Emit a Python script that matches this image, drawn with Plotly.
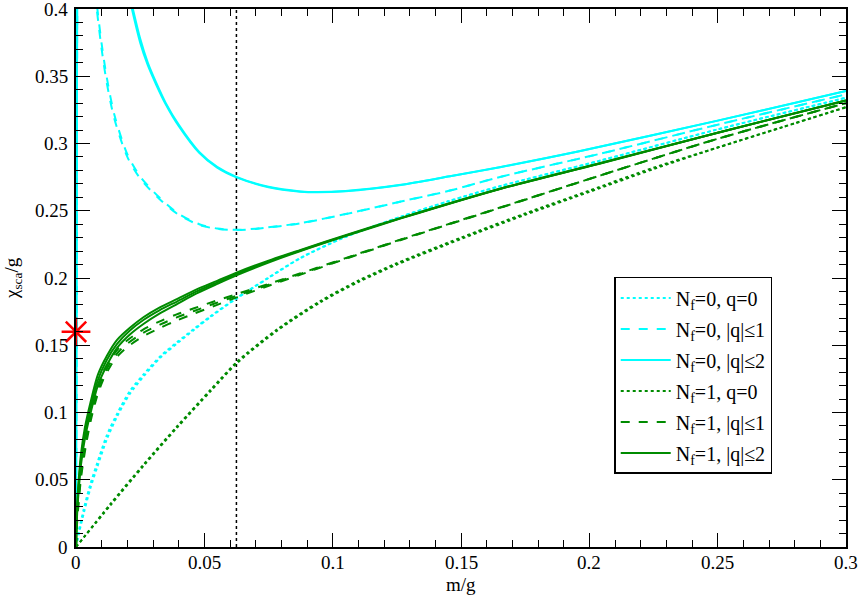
import plotly.graph_objects as go

# ---------------- data ----------------
# N_f = 0, q = 0 (cyan dotted)
c0_x = [0, 0.001, 0.003, 0.0055, 0.0082, 0.012, 0.016, 0.021, 0.0264, 0.033, 0.0395, 0.046, 0.0524, 0.0616,
        0.075, 0.0875, 0.105, 0.1266, 0.145, 0.1656, 0.2047, 0.25, 0.3]
c0_y1 = [0, 0.009, 0.025, 0.043, 0.059, 0.080, 0.097, 0.114, 0.127, 0.141, 0.1515, 0.1615, 0.171, 0.1835,
         0.200, 0.2148, 0.2305, 0.2455, 0.257, 0.2685, 0.2875, 0.3105, 0.334]
c0_y2 = [0, 0.011, 0.028, 0.046, 0.062, 0.083, 0.099, 0.116, 0.1285, 0.142, 0.1525, 0.1622, 0.1716, 0.1839,
         0.2003, 0.2150, 0.2306, 0.2456, 0.257, 0.2685, 0.2875, 0.3105, 0.334]

# N_f = 0, |q| <= 1 (cyan dashed)
c1_x = [0, 0.0005, None, 0.0082, 0.01, 0.012, 0.015, 0.02, 0.025, 0.0324, 0.04, 0.048, 0.055, 0.0625, 0.07,
        0.0875, 0.105, 0.1266, 0.1457, 0.1656, 0.2047, 0.25, 0.3]
c1_y1 = [0, 0.45, None, 0.398, 0.37, 0.345, 0.318, 0.29, 0.274, 0.259, 0.247, 0.2395, 0.2365, 0.2356, 0.2365,
         0.2407, 0.2475, 0.2568, 0.265, 0.2753, 0.2926, 0.314, 0.3365]
c1_y2 = [0, 0.45, None, 0.402, 0.374, 0.349, 0.321, 0.292, 0.2755, 0.260, 0.2478, 0.240, 0.2368, 0.2358, 0.2367,
         0.2408, 0.2476, 0.2569, 0.265, 0.2753, 0.2926, 0.314, 0.3365]

# N_f = 0, |q| <= 2 (cyan solid)
c2_x = [0, 0.0005, None, 0.0200, 0.025, 0.028, 0.03125, 0.035, 0.04, 0.048, 0.055, 0.0625, 0.075, 0.0875, 0.0937,
        0.105, 0.1266, 0.1457, 0.1656, 0.1956, 0.25, 0.3]
c2_y1 = [0, 0.45, None, 0.415, 0.375, 0.358, 0.3437, 0.329, 0.313, 0.293, 0.282, 0.2748, 0.2675, 0.2642, 0.2637,
         0.2645, 0.2692, 0.2756, 0.2825, 0.294, 0.317, 0.339]
c2_y2 = [0, 0.45, None, 0.418, 0.378, 0.360, 0.3452, 0.330, 0.314, 0.2937, 0.2826, 0.2752, 0.2678, 0.2644, 0.2639,
         0.2647, 0.2693, 0.2757, 0.2826, 0.294, 0.317, 0.339]

# N_f = 1, q = 0 (green dotted)
g0_x = [0, 0.0134, 0.0264, 0.0395, 0.0525, 0.0629, 0.0785, 0.0953, 0.11, 0.125, 0.15, 0.175, 0.2, 0.225, 0.25, 0.275, 0.3]
g0_y1 = [0, 0.031, 0.0605, 0.089, 0.116, 0.137, 0.161, 0.182, 0.197, 0.210, 0.229, 0.247, 0.264, 0.281, 0.297, 0.312, 0.327]
g0_y2 = [0, 0.032, 0.0615, 0.090, 0.117, 0.138, 0.162, 0.183, 0.198, 0.211, 0.230, 0.248, 0.265, 0.282, 0.297, 0.312, 0.327]

# N_f = 1, |q| <= 1 (green dashed)
g1_x = [0, 0.0005, 0.001, 0.002, 0.004, 0.006, 0.0082, 0.0105, 0.0134, 0.0165, 0.0199, 0.026, 0.0329, 0.039, 0.046,
        0.054, 0.0629, 0.0759, 0.0875, 0.105, 0.1266, 0.1656, 0.2047, 0.25, 0.3]
g1_y1 = [0, 0.024, 0.038, 0.058, 0.083, 0.102, 0.118, 0.130, 0.1395, 0.1475, 0.1535, 0.1615, 0.168, 0.1728, 0.1775,
         0.1827, 0.1882, 0.1962, 0.2035, 0.2148, 0.2287, 0.2526, 0.2765, 0.3035, 0.330]
g1_y2 = [0, 0.022, 0.035, 0.055, 0.080, 0.099, 0.115, 0.127, 0.137, 0.145, 0.151, 0.159, 0.1655, 0.1705, 0.1755,
         0.181, 0.187, 0.1955, 0.203, 0.2145, 0.2285, 0.2525, 0.2765, 0.3035, 0.330]
g1_y3 = [0, 0.020, 0.032, 0.052, 0.077, 0.096, 0.112, 0.124, 0.1345, 0.1425, 0.1485, 0.1565, 0.163, 0.1682, 0.1735,
         0.1793, 0.1858, 0.1948, 0.2025, 0.2142, 0.2283, 0.2524, 0.2765, 0.3035, 0.330]

# N_f = 1, |q| <= 2 (green solid)
g2_x = [0, 0.0005, 0.001, 0.002, 0.0035, 0.0056, 0.0085, 0.012, 0.016, 0.021, 0.0264, 0.0325, 0.0395, 0.047, 0.055,
        0.0625, 0.075, 0.0875, 0.105, 0.1266, 0.1656, 0.2047, 0.25, 0.3]
g2_y1 = [0, 0.033, 0.049, 0.070, 0.089, 0.107, 0.128, 0.142, 0.154, 0.163, 0.171, 0.178, 0.1845, 0.1915, 0.1979,
         0.2040, 0.2129, 0.2209, 0.2318, 0.2447, 0.2666, 0.2857, 0.308, 0.332]
g2_y2 = [0, 0.030, 0.045, 0.066, 0.085, 0.103, 0.124, 0.139, 0.151, 0.161, 0.169, 0.176, 0.1827, 0.190, 0.1968,
         0.2030, 0.2122, 0.2205, 0.2315, 0.2445, 0.2665, 0.2855, 0.308, 0.332]
g2_y3 = [0, 0.027, 0.041, 0.062, 0.081, 0.099, 0.120, 0.135, 0.148, 0.158, 0.166, 0.1735, 0.1808, 0.1885, 0.1956,
         0.2020, 0.2115, 0.2201, 0.2312, 0.2443, 0.2664, 0.2853, 0.308, 0.332]

# reference marker and vertical line
star_x = [0]
star_y = [0.16]
vline_x = [0.0625, 0.0625]
vline_y = [0, 0.4]

x_ticks = [0, 0.05, 0.1, 0.15, 0.2, 0.25, 0.3]
x_ticktext = ["0", "0.05", "0.1", "0.15", "0.2", "0.25", "0.3"]
y_ticks = [0, 0.05, 0.1, 0.15, 0.2, 0.25, 0.3, 0.35, 0.4]
y_ticktext = ["0", "0.05", "0.1", "0.15", "0.2", "0.25", "0.3", "0.35", "0.4"]

x_title = "m/g"
y_title = "χ<sub>sca</sub>/g"

labels = ["N<sub>f</sub>=0, q=0", "N<sub>f</sub>=0, |q|≤1", "N<sub>f</sub>=0, |q|≤2",
          "N<sub>f</sub>=1, q=0", "N<sub>f</sub>=1, |q|≤1", "N<sub>f</sub>=1, |q|≤2"]

CYAN = "#00FFFF"
GREEN = "#008B00"
FONT = "Times New Roman"
TXT = dict(family=FONT, size=20, color="black")
AX_TXT = dict(family=FONT, size=19, color="black")

series = [
    (c0_x, [c0_y1, c0_y2], CYAN, "dot", labels[0]),
    (c1_x, [c1_y1, c1_y2], CYAN, "dash", labels[1]),
    (c2_x, [c2_y1, c2_y2], CYAN, "solid", labels[2]),
    (g0_x, [g0_y1, g0_y2], GREEN, "dot", labels[3]),
    (g1_x, [g1_y1, g1_y2, g1_y3], GREEN, "dash", labels[4]),
    (g2_x, [g2_y1, g2_y2, g2_y3], GREEN, "solid", labels[5]),
]

fig = go.Figure()

fig.add_trace(go.Scatter(x=vline_x, y=vline_y, mode="lines",
                         line=dict(color="black", width=1.5, dash="dot"),
                         showlegend=False, hoverinfo="skip"))

for i, (xs, ys_list, col, dash, name) in enumerate(series):
    for j, ys in enumerate(ys_list):
        fig.add_trace(go.Scatter(
            x=xs, y=ys, mode="lines", name=name,
            line=dict(color=col, width=2, dash=dash, shape="spline", smoothing=0.8),
            legendgroup=f"g{i}", showlegend=(j == 0), connectgaps=False))

fig.add_trace(go.Scatter(x=star_x, y=star_y, mode="markers",
                         marker=dict(symbol="asterisk-open", size=24, color="red",
                                     line=dict(color="red", width=2.5)),
                         showlegend=False, cliponaxis=False))

axis_common = dict(
    showgrid=False, zeroline=False, showline=True, linecolor="black", linewidth=1.5,
    mirror="allticks", ticks="inside", ticklen=14, tickwidth=1.2, tickcolor="black",
    showticklabels=False,
)
minor = dict(dtick=0.01, ticks="inside", ticklen=7, tickwidth=1.2, tickcolor="black")

fig.update_xaxes(range=[0, 0.3], tickmode="array", tickvals=x_ticks, minor=minor, **axis_common)
fig.update_yaxes(range=[0, 0.4], tickmode="array", tickvals=y_ticks, minor=minor, **axis_common)

# tick labels and titles as text placed on the axes' own scales
annotations = []
for v, t in zip(x_ticks, x_ticktext):
    annotations.append(dict(x=v, xref="x", y=0, yref="paper", text=t, showarrow=False,
                            xanchor="center", yanchor="top", yshift=-3, font=AX_TXT))
for v, t in zip(y_ticks, y_ticktext):
    annotations.append(dict(x=0, xref="paper", y=v, yref="y", text=t, showarrow=False,
                            xanchor="right", yanchor="middle", xshift=-6, font=AX_TXT))
annotations.append(dict(x=0.5, xref="paper", y=0, yref="paper", text=x_title, showarrow=False,
                        xanchor="center", yanchor="top", yshift=-25, font=AX_TXT))
annotations.append(dict(x=0, xref="paper", y=0.5, yref="paper", text=y_title, showarrow=False,
                        textangle=-90, xanchor="center", yanchor="middle", xshift=-63, font=AX_TXT))

fig.update_layout(
    width=860, height=599,
    margin=dict(l=76, r=14, t=7, b=52),
    paper_bgcolor="white", plot_bgcolor="white",
    font=TXT,
    annotations=annotations,
    legend=dict(x=0.699, y=0.5019, xanchor="left", yanchor="top",
                bordercolor="black", borderwidth=1.5, bgcolor="white",
                font=TXT, tracegroupgap=2, itemwidth=50),
    showlegend=True,
)

fig.write_html("out.html", config={"displayModeBar": False},
               post_script="document.body.style.margin='0px';")
